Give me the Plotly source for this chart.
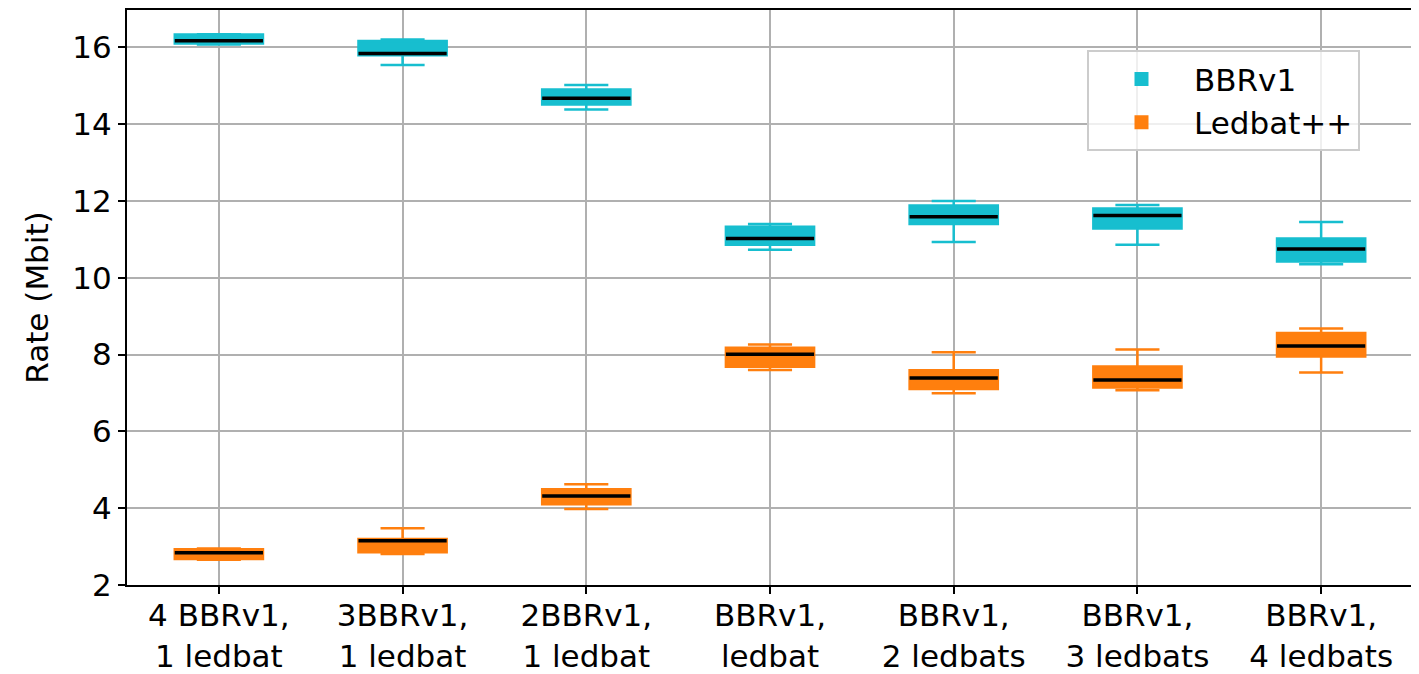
import plotly.graph_objects as go

categories = ["4 BBRv1,<br>1 ledbat", "3BBRv1,<br>1 ledbat", "2BBRv1,<br>1 ledbat",
              "BBRv1,<br>ledbat", "BBRv1,<br>2 ledbats", "BBRv1,<br>3 ledbats", "BBRv1,<br>4 ledbats"]

bbr_min = [16.07, 15.54, 14.38, 10.73, 10.93, 10.86, 10.35]
bbr_q1 = [16.10, 15.79, 14.51, 10.86, 11.40, 11.28, 10.42]
bbr_med = [16.17, 15.84, 14.67, 11.02, 11.59, 11.62, 10.75]
bbr_q3 = [16.33, 16.16, 14.90, 11.33, 11.88, 11.80, 11.02]
bbr_max = [16.34, 16.20, 15.02, 11.40, 12.00, 11.89, 11.45]

led_min = [2.66, 2.81, 3.98, 7.60, 6.99, 7.07, 7.53]
led_q1 = [2.68, 2.85, 4.10, 7.68, 7.10, 7.14, 7.95]
led_med = [2.84, 3.15, 4.32, 8.01, 7.39, 7.34, 8.22]
led_q3 = [2.93, 3.20, 4.49, 8.18, 7.59, 7.69, 8.56]
led_max = [2.95, 3.48, 4.62, 8.26, 8.06, 8.13, 8.68]

CYAN = "#17becf"
ORANGE = "#ff7f0e"
FONT = "DejaVu Sans"
FS = 31

fig = go.Figure()

def add_box(name, color, lo, q1, med, q3, hi, showlegend=True):
    fig.add_trace(go.Box(
        name=name, x=categories, q1=q1, median=med, q3=q3,
        lowerfence=lo, upperfence=hi,
        fillcolor=color, line=dict(color=color, width=2.5),
        width=0.48, whiskerwidth=0.5, showlegend=showlegend,
        boxpoints=False, hoverinfo="skip",
    ))

add_box("BBRv1", CYAN, bbr_min, bbr_q1, bbr_med, bbr_q3, bbr_max)
add_box("Ledbat++", ORANGE, led_min, led_q1, led_med, led_q3, led_max)

for med in (bbr_med, led_med):
    fig.add_trace(go.Box(
        x=categories, q1=med, median=med, q3=med, lowerfence=med, upperfence=med,
        fillcolor="black", line=dict(color="black", width=3.5),
        width=0.48, whiskerwidth=0, showlegend=False, boxpoints=False,
        hoverinfo="skip",
    ))

# page body adds an 8px offset; margins compensate so the plot area lands at x 127-1413, y 10-585
fig.update_layout(
    width=1419, height=674,
    margin=dict(l=119, r=14, t=2, b=97),
    plot_bgcolor="white", paper_bgcolor="white",
    boxmode="overlay",
    font=dict(family=FONT, size=FS, color="black"),
    legend=dict(x=0.7465, y=0.93, xanchor="left", yanchor="top",
                bgcolor="rgba(255,255,255,0.8)", bordercolor="#cccccc", borderwidth=2,
                font=dict(size=FS), itemsizing="constant", tracegroupgap=4,
                itemwidth=95),
)
fig.update_xaxes(
    type="category", range=[-0.5, 6.5], automargin=False,
    showline=True, linecolor="black", linewidth=2, mirror=True,
    ticks="outside", ticklen=7, tickwidth=2, tickcolor="black",
    showgrid=True, gridcolor="#b0b0b0", gridwidth=2,
    tickfont=dict(size=FS), ticklabelstandoff=-5,
)
fig.update_yaxes(
    range=[2, 16.97], tickvals=[2, 4, 6, 8, 10, 12, 14, 16], automargin=False,
    showline=True, linecolor="black", linewidth=2, mirror=True,
    ticks="outside", ticklen=7, tickwidth=2, tickcolor="black",
    showgrid=True, gridcolor="#b0b0b0", gridwidth=2, zeroline=False,
    title=dict(text="Rate (Mbit)", font=dict(size=FS), standoff=14),
    tickfont=dict(size=FS),
)

fig.write_html("out.html")
